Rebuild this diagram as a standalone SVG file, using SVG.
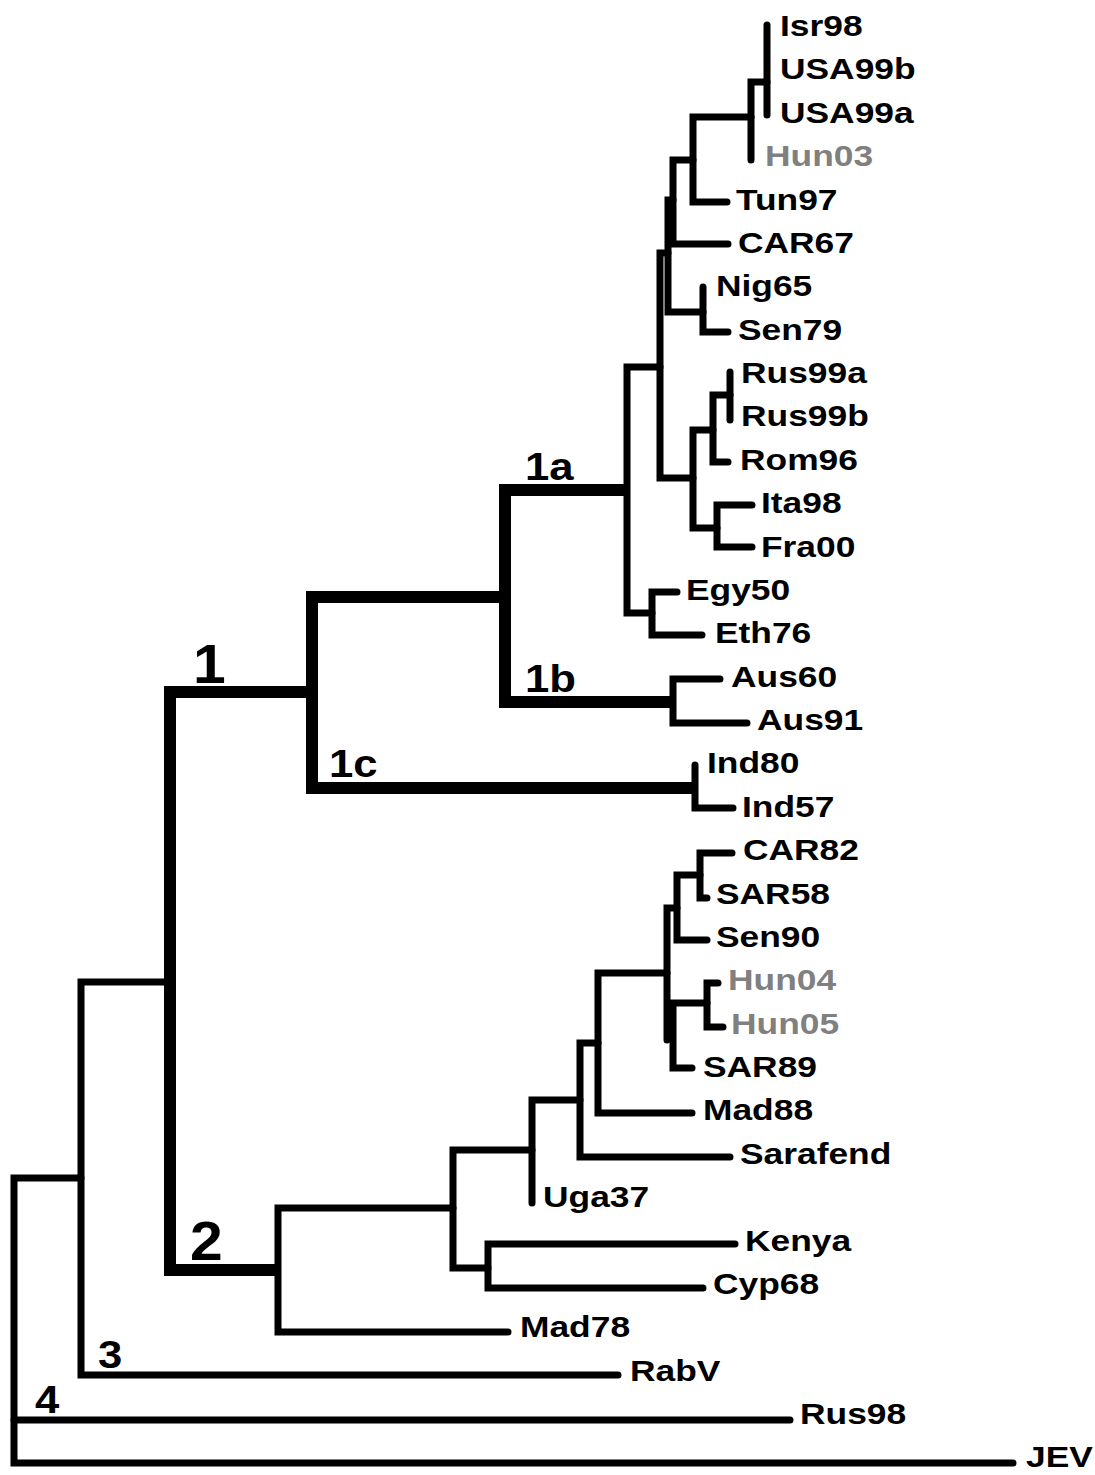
<svg xmlns="http://www.w3.org/2000/svg" width="1095" height="1475" viewBox="0 0 1095 1475">
  <style>
    .br { fill: none; stroke: #000; stroke-width: 7; stroke-linecap: round; stroke-linejoin: miter; }
    .thk { fill: none; stroke: #000; stroke-width: 12; stroke-linecap: butt; stroke-linejoin: miter; }
    text { font-family: "Liberation Sans", Arial, Helvetica, sans-serif; font-weight: bold; fill: #000; }
    .leaf { font-size: 29px; }
    .hun { fill: #808080; }
    .sub { font-size: 39px; }
    .main { font-size: 56px; }
  </style>
  <rect width="1095" height="1475" fill="#fff"/>

  <!-- branches of the tree -->
  <g id="connectors">
    <!-- lineage 1 backbone (bold) -->
    <path class="thk" d="M627 490 H505 V702 H673"/>
    <path class="thk" d="M505 597 H312 V788 H695"/>
    <path class="thk" d="M312 692 H170 V1270 H278"/>

    <!-- clade 1a -->
    <path class="br" d="M767 25 V115"/>
    <path class="br" d="M767 82 H751 V160"/>
    <path class="br" d="M751 117 H693 V202 H727"/>
    <path class="br" d="M693 160 H673 V244 H728"/>
    <path class="br" d="M673 200 H668 V312 H703"/>
    <path class="br" d="M703 287 V332 H728"/>
    <path class="br" d="M668 253 H660 V478 H693"/>
    <path class="br" d="M713 430 H693 V528 H717"/>
    <path class="br" d="M730 395 H713 V462 H728"/>
    <path class="br" d="M730 372 V420"/>
    <path class="br" d="M752 505 H717 V547 H752"/>
    <path class="br" d="M660 367 H627 V613 H652"/>
    <path class="br" d="M677 592 H652 V635 H702"/>

    <!-- clade 1b -->
    <path class="br" d="M720 679 H673 V723 H747"/>

    <!-- clade 1c -->
    <path class="br" d="M695 765 V808 H733"/>

    <!-- lineage 2 -->
    <path class="br" d="M453 1208 H278 V1332 H508"/>
    <path class="br" d="M532 1150 H453 V1268 H488"/>
    <path class="br" d="M735 1244 H488 V1288 H703"/>
    <path class="br" d="M580 1100 H532 V1203"/>
    <path class="br" d="M598 1043 H580 V1157 H730"/>
    <path class="br" d="M667 973 H598 V1113 H692"/>
    <path class="br" d="M677 908 H667 V1040"/>
    <path class="br" d="M700 875 H677 V940 H707"/>
    <path class="br" d="M732 853 H700 V898 H707"/>
    <path class="br" d="M707 1003 H673 V1068 H692"/>
    <path class="br" d="M718 983 H707 V1027 H723"/>

    <!-- lineages 3, 4 and outgroup -->
    <path class="br" d="M170 982 H81 V1375 H618"/>
    <path class="br" d="M81 1178 H14 V1463 H1013"/>
    <path class="br" d="M14 1420 H790"/>
  </g>

  <!-- lineage labels -->
  <g id="lineage-labels">
    <text id="lab-1" class="main" transform="translate(193,683) scale(1.05,1)">1</text>
    <text id="lab-2" class="main" transform="translate(190,1260) scale(1.05,1)">2</text>
    <text id="lab-1a" class="sub" transform="translate(525,480) scale(1.12,1)">1a</text>
    <text id="lab-1b" class="sub" transform="translate(525,692) scale(1.12,1)">1b</text>
    <text id="lab-1c" class="sub" transform="translate(329,777) scale(1.12,1)">1c</text>
    <text id="lab-3" class="sub" transform="translate(98,1368) scale(1.12,1)">3</text>
    <text id="lab-4" class="sub" transform="translate(35,1413) scale(1.12,1)">4</text>
  </g>

  <!-- strain names -->
  <g id="taxa">
    <g id="n-Isr98"><text class="leaf" transform="translate(780,36) scale(1.22,1)">Isr98</text></g>
    <g id="n-USA99b"><text class="leaf" transform="translate(780,79) scale(1.22,1)">USA99b</text></g>
    <g id="n-USA99a"><text class="leaf" transform="translate(780,123) scale(1.22,1)">USA99a</text></g>
    <g id="n-Hun03"><text class="leaf hun" transform="translate(765,166) scale(1.22,1)">Hun03</text></g>
    <g id="n-Tun97"><text class="leaf" transform="translate(736,210) scale(1.22,1)">Tun97</text></g>
    <g id="n-CAR67"><text class="leaf" transform="translate(738,253) scale(1.22,1)">CAR67</text></g>
    <g id="n-Nig65"><text class="leaf" transform="translate(716,296) scale(1.22,1)">Nig65</text></g>
    <g id="n-Sen79"><text class="leaf" transform="translate(738,340) scale(1.22,1)">Sen79</text></g>
    <g id="n-Rus99a"><text class="leaf" transform="translate(741,383) scale(1.22,1)">Rus99a</text></g>
    <g id="n-Rus99b"><text class="leaf" transform="translate(741,426) scale(1.22,1)">Rus99b</text></g>
    <g id="n-Rom96"><text class="leaf" transform="translate(740,470) scale(1.22,1)">Rom96</text></g>
    <g id="n-Ita98"><text class="leaf" transform="translate(761,513) scale(1.22,1)">Ita98</text></g>
    <g id="n-Fra00"><text class="leaf" transform="translate(761,557) scale(1.22,1)">Fra00</text></g>
    <g id="n-Egy50"><text class="leaf" transform="translate(686,600) scale(1.22,1)">Egy50</text></g>
    <g id="n-Eth76"><text class="leaf" transform="translate(715,643) scale(1.22,1)">Eth76</text></g>
    <g id="n-Aus60"><text class="leaf" transform="translate(731,687) scale(1.22,1)">Aus60</text></g>
    <g id="n-Aus91"><text class="leaf" transform="translate(757,730) scale(1.22,1)">Aus91</text></g>
    <g id="n-Ind80"><text class="leaf" transform="translate(707,773) scale(1.22,1)">Ind80</text></g>
    <g id="n-Ind57"><text class="leaf" transform="translate(742,817) scale(1.22,1)">Ind57</text></g>
    <g id="n-CAR82"><text class="leaf" transform="translate(743,860) scale(1.22,1)">CAR82</text></g>
    <g id="n-SAR58"><text class="leaf" transform="translate(716,904) scale(1.22,1)">SAR58</text></g>
    <g id="n-Sen90"><text class="leaf" transform="translate(716,947) scale(1.22,1)">Sen90</text></g>
    <g id="n-Hun04"><text class="leaf hun" transform="translate(728,990) scale(1.22,1)">Hun04</text></g>
    <g id="n-Hun05"><text class="leaf hun" transform="translate(731,1034) scale(1.22,1)">Hun05</text></g>
    <g id="n-SAR89"><text class="leaf" transform="translate(703,1077) scale(1.22,1)">SAR89</text></g>
    <g id="n-Mad88"><text class="leaf" transform="translate(703,1120) scale(1.22,1)">Mad88</text></g>
    <g id="n-Sarafend"><text class="leaf" transform="translate(740,1164) scale(1.22,1)">Sarafend</text></g>
    <g id="n-Uga37"><text class="leaf" transform="translate(543,1207) scale(1.22,1)">Uga37</text></g>
    <g id="n-Kenya"><text class="leaf" transform="translate(745,1251) scale(1.22,1)">Kenya</text></g>
    <g id="n-Cyp68"><text class="leaf" transform="translate(713,1294) scale(1.22,1)">Cyp68</text></g>
    <g id="n-Mad78"><text class="leaf" transform="translate(520,1337) scale(1.22,1)">Mad78</text></g>
    <g id="n-RabV"><text class="leaf" transform="translate(630,1381) scale(1.22,1)">RabV</text></g>
    <g id="n-Rus98"><text class="leaf" transform="translate(800,1424) scale(1.22,1)">Rus98</text></g>
    <g id="n-JEV"><text class="leaf" transform="translate(1026,1467) scale(1.22,1)">JEV</text></g>
  </g>
</svg>
